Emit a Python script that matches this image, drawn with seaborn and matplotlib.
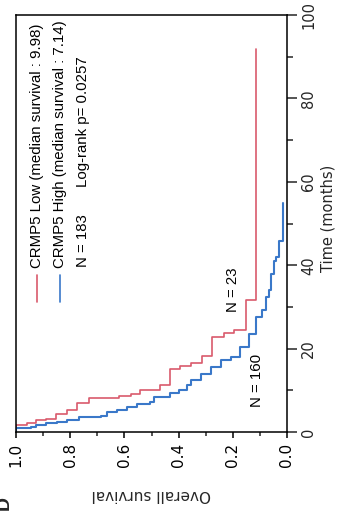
import matplotlib
matplotlib.use("Agg")
import matplotlib.pyplot as plt
import seaborn as sns
import pandas as pd
from matplotlib.ticker import FixedLocator

# ---- data (Kaplan-Meier steps: time of drop, survival after drop)
low_time = [0, 1.7, 2.2, 2.8, 3.1, 4.3, 5.3, 6.9, 8.1, 8.6, 9.1, 10.0, 11.2, 15.1,
            15.8, 16.5, 18.2, 22.7, 23.7, 24.4, 31.6, 91.9]
low_surv = [1.0, 0.961, 0.928, 0.891, 0.851, 0.811, 0.774, 0.731, 0.620, 0.577, 0.541,
            0.467, 0.430, 0.393, 0.356, 0.313, 0.276, 0.233, 0.196, 0.153, 0.116, 0.116]

high_time = [0, 1.0, 1.2, 1.7, 2.1, 2.3, 2.9, 3.5, 3.7, 3.9, 4.9, 5.3, 6.0, 6.7, 7.2,
             8.4, 9.3, 10.1, 11.2, 12.4, 13.9, 15.6, 17.2, 18.0, 20.4, 23.6, 27.6,
             29.2, 32.3, 34.0, 38.0, 41.1, 41.9, 45.7, 54.8]
high_surv = [1.0, 0.946, 0.928, 0.891, 0.848, 0.811, 0.769, 0.725, 0.688, 0.663, 0.627,
             0.590, 0.553, 0.504, 0.492, 0.430, 0.399, 0.368, 0.356, 0.319, 0.282,
             0.245, 0.208, 0.172, 0.141, 0.116, 0.092, 0.079, 0.067, 0.058, 0.049,
             0.042, 0.030, 0.014, 0.014]

surv_ticks = [1.0, 0.8, 0.6, 0.4, 0.2, 0.0]
surv_tick_labels = ["1.0", "0.8", "0.6", "0.4", "0.2", "0.0"]
time_ticks = [0, 20, 40, 60, 80, 100]
time_tick_labels = ["0", "20", "40", "60", "80", "100"]

low_label = "CRMP5 Low (median survival : 9.98)"
high_label = "CRMP5 High (median survival : 7.14)"
n_total = "N = 183"
logrank = "Log-rank p= 0.0257"
n_low = "N = 23"
n_high = "N = 160"

RED = "#D95A6C"
BLUE = "#3A78C9"

sns.set_style("ticks")
plt.rcParams["font.family"] = ["DejaVu Sans"]
ARIAL = ["Liberation Sans", "DejaVu Sans"]

W, H = 339, 519
fig = plt.figure(figsize=(W / 100, H / 100), dpi=100)
fig.patch.set_facecolor("white")
L, R, T, B = 16, 287, 15, 432
ax = fig.add_axes([L / W, 1 - B / H, (R - L) / W, (B - T) / H])
ax.set_facecolor("white")

df_low = pd.DataFrame({"survival": low_surv, "time": low_time})
df_high = pd.DataFrame({"survival": high_surv, "time": high_time})
sns.lineplot(data=df_low, x="survival", y="time", sort=False, estimator=None,
             drawstyle="steps-pre", color=RED, lw=1.2, ax=ax)
sns.lineplot(data=df_high, x="survival", y="time", sort=False, estimator=None,
             drawstyle="steps-pre", color=BLUE, lw=1.5, ax=ax)

ax.set_xlim(1.0, 0.0)
ax.set_ylim(0, 100)
ax.xaxis.set_major_locator(FixedLocator(surv_ticks))
ax.set_xticklabels(surv_tick_labels)
ax.xaxis.set_minor_locator(FixedLocator([0.9, 0.7, 0.5, 0.3, 0.1]))
ax.yaxis.tick_right()
ax.yaxis.set_major_locator(FixedLocator(time_ticks))
ax.set_yticklabels(time_tick_labels)
ax.yaxis.set_minor_locator(FixedLocator([10, 30, 50, 70, 90]))

for sp in ax.spines.values():
    sp.set_visible(True)
    sp.set_color("black")
    sp.set_linewidth(1.1)

ax.tick_params(axis="x", which="major", length=4.3, width=1.1, direction="out",
               labelsize=11, pad=3.5, labelrotation=90, colors="black")
ax.tick_params(axis="x", which="minor", length=2.9, width=1.1, direction="out")
ax.tick_params(axis="y", which="major", length=7.2, width=1.1, direction="out",
               labelsize=10.5, pad=3, labelrotation=90, left=False, right=True,
               labelleft=False, labelright=True)
ax.tick_params(axis="y", which="minor", length=4.3, width=1.1, direction="out",
               left=False, right=True)
for lab in ax.get_yticklabels():
    lab.set_va("center")
    lab.set_ha("left")

ax.set_xlabel("Overall survival", fontsize=11, rotation=180)
ax.xaxis.label.set_va("center")
ax.xaxis.set_label_coords(0.5, (H - 495 - (H - B)) / (B - T))
ax.set_ylabel("Time (months)", fontsize=10.5, rotation=90)
ax.yaxis.set_label_position("right")
ax.yaxis.label.set_va("center")
ax.yaxis.label.set_ha("center")
ax.yaxis.set_label_coords((328 - L) / (R - L), (B - 218) / (B - T))

# legend (rotated)
def ax_xy(px, py):
    return (px - L) / (R - L), (B - py) / (B - T)

for col, px in ((RED, 37), (BLUE, 60)):
    x0, y0 = ax_xy(px, 302)
    _, y1 = ax_xy(px, 275)
    ax.plot([x0, x0], [y0, y1], color=col, lw=1.2, transform=ax.transAxes, clip_on=False)

for txt, px, py in ((low_label, 37, 268), (high_label, 60, 268), (n_total, 83, 267),
                    (logrank, 83, 187)):
    x0, y0 = ax_xy(px, py)
    ax.text(x0, y0, txt, transform=ax.transAxes, rotation=90, ha="center", va="bottom",
            fontsize=10.8, family=ARIAL, color="black")

# group counts
ax.text(0.201, 34, n_low, rotation=90, ha="center", va="center", fontsize=10.8,
        family=ARIAL, color="black")
ax.text(0.109, 12.4, n_high, rotation=90, ha="center", va="center", fontsize=10.8,
        family=ARIAL, color="black")

# panel letter (partly cut at the left edge, as in the reference)
fig.text(4 / W, 1 - 503 / H, "D", rotation=90, ha="center", va="center",
         fontsize=14, fontweight="bold", family=ARIAL)

fig.savefig("out.png", dpi=100, facecolor="white")
